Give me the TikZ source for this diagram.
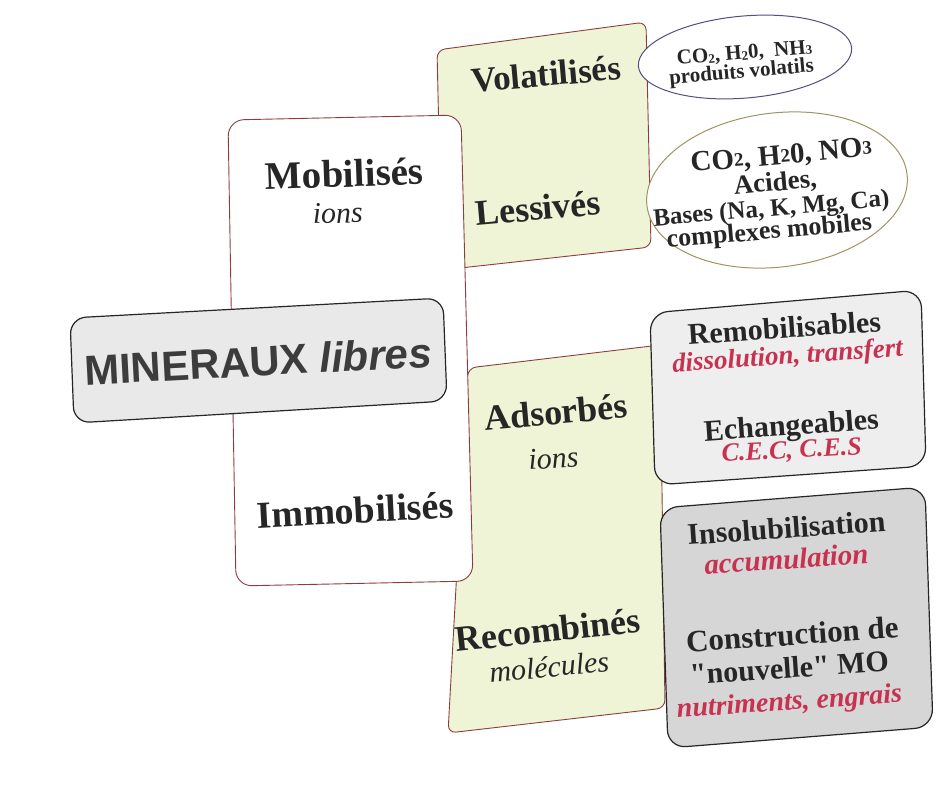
\documentclass[tikz,border=0pt]{standalone}
\usepackage{fontspec}
\setmainfont{Liberation Serif}
\newfontfamily\headsans{Liberation Sans}
\newfontfamily\straightserif{Liberation Serif}[Ligatures=TeXOff]
\definecolor{leaf}{RGB}{239,244,214}
\definecolor{boxred}{RGB}{140,62,62}
\definecolor{ink}{RGB}{38,38,38}
\definecolor{accent}{RGB}{200,50,80}
\definecolor{paleg}{RGB}{238,238,238}
\definecolor{midg}{RGB}{214,214,214}
\definecolor{minfill}{RGB}{233,233,233}
\definecolor{bluerim}{RGB}{80,80,130}
\definecolor{olive}{RGB}{160,148,100}
\newcommand\setfs[1]{\fontsize{#1}{#1}\selectfont}
\newcommand\lowdig[1]{\raisebox{-0.1ex}{\scalebox{0.62}{#1}}}
\newcommand\middig[1]{\raisebox{0.15ex}{\scalebox{0.66}{#1}}}
\begin{document}
\begin{tikzpicture}[x=1pt,y=-1pt,
  greenbox/.style={draw=boxred, fill=leaf, line width=0.9pt, rounded corners=8},
  whitebox/.style={draw=boxred, fill=white, line width=0.9pt, rounded corners=16},
  graybox/.style={draw=black!85, line width=1.2pt, rounded corners=18},
  lbl/.style={font=\bfseries, text=ink, rotate=4, inner sep=0pt, anchor=base},
  sublbl/.style={font=\itshape, text=ink, rotate=4, inner sep=0pt, anchor=base},
  redlbl/.style={font=\bfseries\itshape, text=accent, rotate=4, inner sep=0pt, anchor=base}
]
\useasboundingbox (0,0) rectangle (939,806);
\fill[white] (0,0) rectangle (939,806);

% green panels behind the central column
\draw[greenbox] (437,50) -- (646,22) -- (651,247) -- (442,270) -- cycle;
\draw[greenbox] (468,368) -- (660,345) -- (665,708) -- (448,733) -- cycle;

% central white column
\draw[whitebox] (228,120) -- (461,115) -- (473,581) -- (236,586) -- cycle;

% main box
\draw[line width=1.2pt, draw=black!85, fill=minfill, rounded corners=16]
  (70,318) -- (443,298) -- (447,401) -- (74,423) -- cycle;

% ellipses of products
\draw[bluerim, line width=1pt, fill=white, rotate around={5:(745,57)}]
  (745,57) ellipse [x radius=107, y radius=41];
\draw[olive, line width=1pt, fill=white, rotate around={7:(777,190)}]
  (777,190) ellipse [x radius=131, y radius=77];

% right-hand boxes
\draw[graybox, fill=paleg] (650,313) -- (921,290) -- (926,466) -- (655,485) -- cycle;
\draw[graybox, fill=midg] (660,508) -- (925,487) -- (933,727) -- (668,748) -- cycle;

% labels of the two columns
\node[lbl, rotate=1] (vol) at (547,86) {\setfs{35}Volatilisés};
\node[lbl, rotate=1] (les) at (539,220) {\setfs{36}Lessivés};
\node[lbl, rotate=-2] (mob) at (345,187) {\setfs{39}Mobilisés};
\node[sublbl, rotate=-2] (mobions) at (338,223) {\setfs{30}ions};
\node[inner sep=0pt, rotate=3, text=ink!90] (mineraux) at (258,361)
  {\headsans\bfseries\setfs{42}MINERAUX \itshape libres};
\node[lbl, rotate=-1] (imm) at (356,523) {\setfs{38}Immobilisés};
\node[lbl, rotate=1] (ads) at (557,424) {\setfs{36}Adsorbés};
\node[sublbl] (adsions) at (554,468) {\setfs{30}ions};
\node[lbl, rotate=2] (rec) at (549,642) {\setfs{36}Recombinés};
\node[sublbl, rotate=1] (recmol) at (550,677) {\setfs{30}molécules};

% products in the ellipses
\node[lbl, rotate=1] (gasa) at (745,59) {\setfs{21}CO\lowdig{2}, H\lowdig{2}0,\ \ NH\lowdig{3}};
\node[lbl, rotate=1] (gasb) at (742,78) {\setfs{21}produits volatils};

\node[lbl, rotate=1] (leaa) at (782,164) {\setfs{29}CO\middig{2}, H\middig{2}0, NO\middig{3}};
\node[lbl, rotate=1] (leab) at (776,191) {\setfs{27}Acides,};
\node[lbl, rotate=1] (leac) at (772,216) {\setfs{25}Bases (Na, K, Mg, Ca)};
\node[lbl, rotate=1] (lead) at (770,239) {\setfs{26}complexes mobiles};

% contents of the right-hand boxes
\node[lbl] (remo) at (785,338) {\setfs{30}Remobilisables};
\node[redlbl] (remoa) at (788,364) {\setfs{27}dissolution, transfert};
\node[lbl] (ech) at (792,435) {\setfs{30}Echangeables};
\node[redlbl, rotate=-1] (echa) at (792,458) {\setfs{26}C.E.C, C.E.S};

\node[lbl] (ins) at (787,538) {\setfs{30}Insolubilisation};
\node[redlbl] (insa) at (787,569) {\setfs{29}accumulation};
\node[lbl] (cons) at (793,645) {\setfs{31}Construction de};
\node[lbl] (consb) at (790,678) {\setfs{30}\straightserif"nouvelle" MO};
\node[redlbl] (consc) at (790,710) {\setfs{28}nutriments, engrais};
\end{tikzpicture}
\end{document}
